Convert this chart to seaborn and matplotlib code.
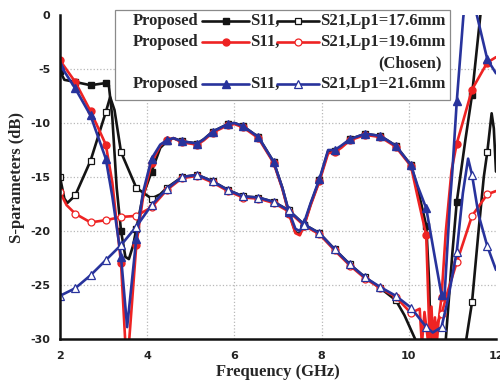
import numpy as np
import pandas as pd
import matplotlib
matplotlib.use("Agg")
import matplotlib.pyplot as plt
from matplotlib.ticker import FixedLocator, MultipleLocator
from matplotlib.patches import Rectangle
import seaborn as sns

sns.set_style("white")
plt.rcParams["font.family"] = ["DejaVu Sans"]

# ---------------- measured S-parameters (dB) vs frequency (GHz) ----------------
# Lp1 = 17.6 mm
s11_176_freq = [2.0, 2.1, 2.35, 2.7, 3.05, 3.12, 3.2, 3.3, 3.4, 3.5, 3.58, 3.68, 3.75, 3.9, 4.1, 4.3, 4.45,
                4.6, 4.8, 5.15, 5.3, 5.5, 5.85, 6.0, 6.2, 6.55, 6.9, 7.1, 7.25, 7.4, 7.5, 7.6, 7.75, 7.95,
                8.15, 8.3, 8.45, 8.65, 9.0, 9.35, 9.7, 10.05, 10.2, 10.4, 10.47, 10.5, 10.84, 11.0, 11.1,
                11.3, 11.45, 11.65]
s11_176_db = [-5.2, -6.0, -6.2, -6.5, -6.3, -6.5, -9.5, -16.0, -20.0, -22.4, -22.6, -21.3, -19.8, -16.8, -14.5,
              -12.3, -11.7, -11.4, -11.7, -11.9, -11.5, -10.8, -10.1, -10.0, -10.3, -11.3, -13.6, -16.0,
              -18.3, -20.1, -20.3, -19.4, -17.5, -15.3, -12.6, -12.6, -12.2, -11.5, -11.0, -11.2, -12.1,
              -13.9, -16.0, -19.5, -25.0, -30.5, -30.5, -22.0, -17.3, -11.5, -7.4, 0.3]

s21_176_freq = [2.0, 2.1, 2.17, 2.35, 2.7, 3.05, 3.15, 3.25, 3.4, 3.75, 4.1, 4.3, 4.45, 4.8, 5.15, 5.5, 5.85,
                6.2, 6.55, 6.9, 7.25, 7.6, 7.95, 8.3, 8.65, 9.0, 9.35, 9.7, 9.9, 10.2, 11.3, 11.45, 11.6,
                11.72, 11.8, 11.9, 11.95, 12.0]
s21_176_db = [-15.0, -17.0, -17.4, -16.7, -13.5, -9.0, -7.6, -8.8, -12.7, -16.0, -17.0, -16.6, -16.0, -15.0,
              -14.8, -15.4, -16.2, -16.8, -16.9, -17.3, -18.1, -19.4, -20.2, -21.7, -23.1, -24.3, -25.3,
              -26.4, -27.8, -30.5, -30.5, -26.6, -20.0, -15.0, -12.7, -9.1, -10.5, -14.5]

# Lp1 = 19.6 mm (chosen)
s11_196_freq = [2.0, 2.35, 2.7, 3.05, 3.2, 3.4, 3.5, 3.58, 3.75, 3.9, 4.1, 4.3, 4.45,
                4.6, 4.8, 5.15, 5.3, 5.5, 5.85, 6.0, 6.2, 6.55, 6.9, 7.1, 7.25, 7.4, 7.5, 7.6, 7.75, 7.95,
                8.15, 8.3, 8.45, 8.65, 9.0, 9.35, 9.7, 10.05, 10.2, 10.4, 10.48, 10.52, 10.56, 10.6, 10.64,
                10.68, 10.75, 10.85, 10.98, 11.1, 11.45, 11.8, 12.0]
s11_196_db = [-4.2, -6.2, -8.9, -12.0, -15.5, -23.0, -30.5, -30.5, -21.3, -17.0, -13.7, -12.1, -11.6,
              -11.4, -11.8, -12.0, -11.6, -10.9, -10.2, -10.1, -10.4, -11.4, -13.7, -16.1, -18.4, -20.2,
              -20.4, -19.5, -17.6, -15.4, -12.8, -12.7, -12.3, -11.6, -11.1, -11.3, -12.2, -14.0, -16.8,
              -20.4, -30.5, -27.0, -30.5, -28.0, -30.5, -28.5, -26.1, -20.0, -14.4, -11.9, -6.9, -4.4, -3.9]

s21_196_freq = [2.0, 2.15, 2.35, 2.7, 3.05, 3.4, 3.75, 4.1, 4.45, 4.8, 5.15, 5.5, 5.85, 6.2, 6.55, 6.9, 7.25,
                7.6, 7.95, 8.3, 8.65, 9.0, 9.35, 9.7, 10.05, 10.25, 10.3, 10.36, 10.45, 10.5, 10.58, 10.65,
                10.75, 10.9, 11.1, 11.45, 11.8, 12.0]
s21_196_db = [-16.4, -17.6, -18.4, -19.2, -19.0, -18.7, -18.6, -17.8, -16.2, -15.1, -14.9, -15.5, -16.3,
              -16.9, -17.0, -17.4, -18.2, -19.5, -20.3, -21.8, -23.2, -24.4, -25.3, -26.1, -27.6, -27.2,
              -30.5, -27.5, -30.5, -28.5, -30.5, -28.5, -27.7, -25.5, -22.9, -18.6, -16.6, -16.3]

# Lp1 = 21.6 mm
s11_216_freq = [2.0, 2.35, 2.7, 3.05, 3.2, 3.4, 3.54, 3.75, 3.9, 4.1, 4.3, 4.45,
                4.6, 4.8, 5.15, 5.3, 5.5, 5.85, 6.0, 6.2, 6.55, 6.9, 7.1, 7.25, 7.4, 7.5, 7.6, 7.75, 7.95,
                8.15, 8.3, 8.45, 8.65, 9.0, 9.35, 9.7, 10.05, 10.2, 10.4, 10.6, 10.75, 10.82, 10.95, 11.0,
                11.1, 11.25, 11.28, np.nan, 11.52, 11.56, 11.8, 12.0]
s11_216_db = [-4.6, -6.8, -9.3, -13.3, -16.8, -22.4, -28.9, -20.7, -16.5, -13.3, -12.0, -11.6,
              -11.4, -11.7, -11.9, -11.5, -10.8, -10.1, -10.0, -10.3, -11.3, -13.6, -16.0, -18.2, -19.8,
              -20.0, -19.2, -17.4, -15.2, -12.5, -12.5, -12.1, -11.5, -11.0, -11.2, -12.1, -13.9, -15.8,
              -17.9, -22.5, -25.9, -26.0, -17.0, -14.4, -8.0, -0.2, 0.8, np.nan, 0.8, 0.0, -4.1, -5.4]

s21_216_freq = [2.0, 2.35, 2.7, 3.05, 3.4, 3.75, 4.1, 4.45, 4.8, 5.15, 5.5, 5.85, 6.2, 6.55, 6.9, 7.25, 7.6,
                7.95, 8.3, 8.65, 9.0, 9.35, 9.7, 10.05, 10.4, 10.55, 10.75, 10.9, 11.1, 11.24, 11.36, 11.45,
                11.6, 11.8, 12.0]
s21_216_db = [-26.0, -25.3, -24.1, -22.7, -21.3, -19.6, -17.6, -16.1, -15.0, -14.8, -15.4, -16.2, -16.8,
              -16.9, -17.3, -18.1, -19.4, -20.2, -21.7, -23.1, -24.3, -25.2, -26.0, -27.1, -28.9, -29.4,
              -28.9, -26.3, -21.9, -16.5, -13.3, -14.8, -18.5, -21.4, -23.6]

x_ticks = [2, 4, 6, 8, 10, 12]
y_ticks = [0, -5, -10, -15, -20, -25, -30]
legend_rows = ["S21,Lp1=17.6mm", "S21,Lp1=19.6mm", "S21,Lp1=21.6mm"]

BLACK, RED, BLUE = "#141414", "#ee2323", "#28339c"
MARKER_STEP = 0.35          # spacing of the sampled frequency points that carry symbols
LW, MS = 1.9, 5.0

series = [
    (s11_176_freq, s11_176_db, BLACK, "s", True),
    (s21_176_freq, s21_176_db, BLACK, "s", False),
    (s11_196_freq, s11_196_db, RED, "o", True),
    (s21_196_freq, s21_196_db, RED, "o", False),
    (s11_216_freq, s11_216_db, BLUE, "^", True),
    (s21_216_freq, s21_216_db, BLUE, "^", False),
]


def symbol_positions(freq):
    k = (np.asarray(freq, float) - 2.0) / MARKER_STEP
    return [i for i, v in enumerate(k) if abs(v - round(v)) < 1e-6]


def segments(freq, db):
    f = np.asarray(freq, float)
    d = np.asarray(db, float)
    gaps = np.where(np.isnan(f))[0]
    bounds = [-1, *gaps, len(f)]
    for a, b in zip(bounds[:-1], bounds[1:]):
        yield f[a + 1:b], d[a + 1:b]


fig = plt.figure(figsize=(5.0, 3.84), dpi=100)
ax = fig.add_axes([0.12, 0.1172, 0.872, 0.8437])

for freq, db, color, marker, filled in series:
    for f, d in segments(freq, db):
        df = pd.DataFrame({"freq": f, "db": d})
        sns.lineplot(data=df, x="freq", y="db", ax=ax, color=color, lw=LW,
                     estimator=None, sort=False, legend=False,
                     marker=marker, markersize=MS if marker != "^" else MS + 1,
                     markevery=symbol_positions(f),
                     markerfacecolor=color if filled else "white",
                     markeredgecolor=color, markeredgewidth=1.0 if filled else 0.9)

ax.set_xlim(2, 12)
ax.set_ylim(-30, 0)
ax.xaxis.set_major_locator(FixedLocator(x_ticks))
ax.yaxis.set_major_locator(FixedLocator(y_ticks))
ax.xaxis.set_minor_locator(MultipleLocator(1))
ax.yaxis.set_minor_locator(MultipleLocator(2.5))
ax.set_xticklabels([str(v) for v in x_ticks])
ax.set_yticklabels([str(v) for v in y_ticks])

ax.grid(True, which="major", color="#b8b8b8", linestyle=":", linewidth=0.9)
for tick in (ax.xaxis.get_major_ticks()[0], ax.xaxis.get_major_ticks()[-1],
             ax.yaxis.get_major_ticks()[0], ax.yaxis.get_major_ticks()[-1]):
    tick.gridline.set_visible(False)

for side in ("top", "right"):
    ax.spines[side].set_visible(False)
for side in ("left", "bottom"):
    ax.spines[side].set_linewidth(1.8)
    ax.spines[side].set_color("#111111")

ax.tick_params(which="major", direction="in", length=4, width=1.5, color="#111111",
               labelsize=8, pad=7)
ax.tick_params(which="minor", direction="in", length=2.5, width=1.2, color="#111111")
ax.tick_params(axis="x", which="major", pad=9)
for lab in ax.get_xticklabels() + ax.get_yticklabels():
    lab.set_fontweight("bold")
    lab.set_color("#222222")

serif = ["Liberation Serif", "DejaVu Serif"]
ax.set_xlabel("Frequency (GHz)", fontsize=12, fontweight="bold", family=serif, labelpad=2)
ax.set_ylabel("S-parameters (dB)", fontsize=12, fontweight="bold", family=serif, labelpad=4)

# legend panel drawn in axes fraction units
tr = ax.transAxes
ax.add_patch(Rectangle((0.126, 0.738), 0.768, 0.277, transform=tr, facecolor="white",
                       edgecolor="#8a8a8a", linewidth=0.9, clip_on=False, zorder=5))
row_y = [0.981, 0.917, 0.787]
row_style = [(BLACK, "s"), (RED, "o"), (BLUE, "^")]
for yy, (color, marker), label in zip(row_y, row_style, legend_rows):
    ms = MS if marker != "^" else MS + 1
    ax.text(0.167, yy, "Proposed", transform=tr, fontsize=12, fontweight="bold",
            family=serif, va="center", ha="left", zorder=6)
    ax.plot([0.326, 0.434], [yy, yy], transform=tr, color=color, lw=LW, clip_on=False,
            zorder=6, marker=marker, markevery=[], ms=ms)
    ax.plot([0.380], [yy], transform=tr, color=color, marker=marker, ms=ms,
            clip_on=False, zorder=7, mfc=color, mec=color)
    ax.text(0.436, yy, "S11,", transform=tr, fontsize=12, fontweight="bold",
            family=serif, va="center", ha="left", zorder=6)
    ax.plot([0.498, 0.594], [yy, yy], transform=tr, color=color, lw=LW, clip_on=False, zorder=6)
    ax.plot([0.546], [yy], transform=tr, color=color, marker=marker, ms=ms,
            clip_on=False, zorder=7, mfc="white", mec=color, mew=0.9)
    ax.text(0.597, yy, label, transform=tr, fontsize=12, fontweight="bold",
            family=serif, va="center", ha="left", zorder=6)
ax.text(0.876, 0.852, "(Chosen)", transform=tr, fontsize=12, fontweight="bold",
        family=serif, va="center", ha="right", zorder=6)

fig.savefig("out.png", dpi=100, facecolor="white")
